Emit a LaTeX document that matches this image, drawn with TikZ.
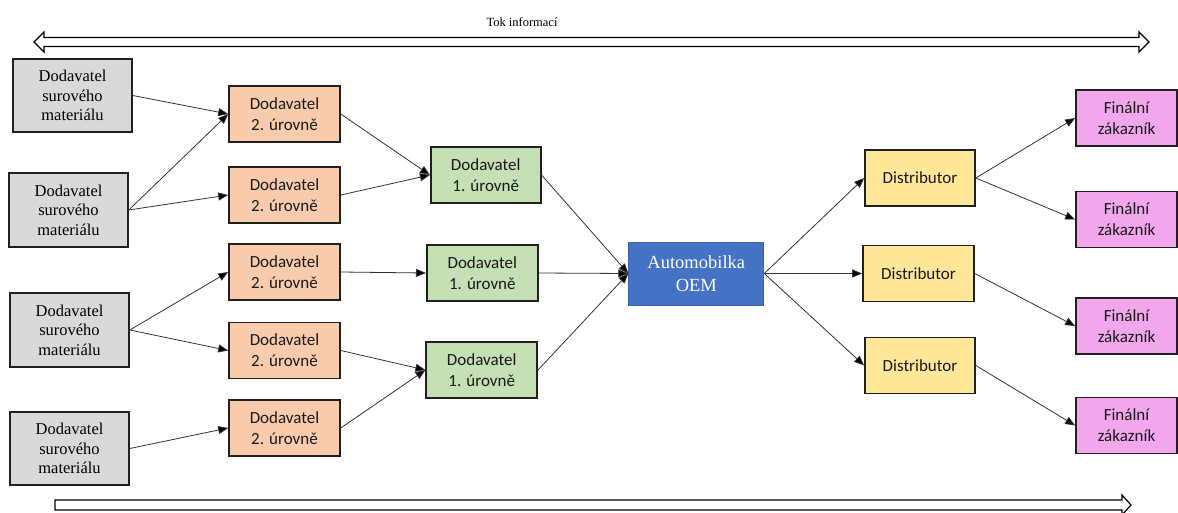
\documentclass[tikz,border=0pt]{standalone}
\usepackage{fontspec}
\setmainfont{Liberation Serif}
\newfontfamily\calibrifont{Carlito}
\usetikzlibrary{arrows.meta}

\definecolor{rawfill}{HTML}{D9D9D9}
\definecolor{tiertwo}{HTML}{F8CBAD}
\definecolor{tierone}{HTML}{C5E0B4}
\definecolor{oemfill}{HTML}{4472C4}
\definecolor{oemedge}{HTML}{3A64B0}
\definecolor{distfill}{HTML}{FFE699}
\definecolor{custfill}{HTML}{F2A6EC}
\definecolor{edgecol}{HTML}{202020}
\definecolor{linkcol}{HTML}{333333}

\tikzset{
  box/.style={draw=edgecol, line width=1.6pt, inner sep=0pt, align=center},
  rawbox/.style={box, fill=rawfill, minimum width=119pt, minimum height=73pt,
                 font=\fontsize{16.5}{19.5}\selectfont},
  cbox/.style={box, minimum width=111pt, minimum height=56pt,
               font=\calibrifont\fontsize{17}{21}\selectfont, text=black!90},
  twobox/.style={cbox, fill=tiertwo},
  onebox/.style={cbox, fill=tierone},
  distbox/.style={cbox, fill=distfill},
  custbox/.style={cbox, fill=custfill, minimum width=101pt},
  oembox/.style={draw=oemedge, line width=1pt, fill=oemfill, inner sep=0pt, align=center,
                 minimum width=135pt, minimum height=63pt, text=white,
                 font=\fontsize{18.5}{23}\selectfont},
  link/.style={draw=linkcol, line width=0.8pt,
               -{Triangle[length=10pt,width=8pt,fill=black]}},
  flowarrow/.style={draw=black, line width=1.2pt, fill=white, line join=miter},
}

\begin{document}
\begin{tikzpicture}[x=1pt,y=-1pt]
\useasboundingbox (0,0) rectangle (1178,512);

% information flow (both directions)
\node[font=\fontsize{12.5}{14}\selectfont] (toklabel) at (522,22) {Tok informací};
\draw[flowarrow] (34,42) -- (44,32) -- (44,37.5) -- (1139,37.5) -- (1139,32) -- (1149,42)
  -- (1139,52) -- (1139,46.5) -- (44,46.5) -- (44,52) -- cycle;

% material flow (one direction)
\draw[flowarrow] (55,500) -- (1122,500) -- (1122,495) -- (1131,505) -- (1122,515)
  -- (1122,510) -- (55,510) -- cycle;

% raw material suppliers
\node[rawbox] (r1) at (72.5,95.5) {Dodavatel\\surového\\materiálu};
\node[rawbox, minimum height=74pt] (r2) at (68.5,210) {Dodavatel\\surového\\materiálu};
\node[rawbox, minimum height=74pt] (r3) at (69.5,330) {Dodavatel\\surového\\materiálu};
\node[rawbox] (r4) at (69.5,448.5) {Dodavatel\\surového\\materiálu};

% tier 2 suppliers
\node[twobox] (t1) at (284.5,114) {Dodavatel\\2. úrovně};
\node[twobox] (t2) at (284.5,195) {Dodavatel\\2. úrovně};
\node[twobox] (t3) at (284.5,272) {Dodavatel\\2. úrovně};
\node[twobox] (t4) at (284.5,350.5) {Dodavatel\\2. úrovně};
\node[twobox] (t5) at (284.5,428) {Dodavatel\\2. úrovně};

% tier 1 suppliers
\node[onebox, minimum width=110pt] (s1) at (485.7,175) {Dodavatel\\1. úrovně};
\node[onebox] (s2) at (482.3,273) {Dodavatel\\1. úrovně};
\node[onebox] (s3) at (481.7,370) {Dodavatel\\1. úrovně};

% manufacturer
\node[oembox] (oem) at (696.3,273.5) {Automobilka\\OEM};

% distributors
\node[distbox, minimum width=110pt] (d1) at (920,178) {Distributor};
\node[distbox] (d2) at (918.5,273.5) {Distributor};
\node[distbox, minimum width=110pt] (d3) at (920,365.5) {Distributor};

% final customers
\node[custbox] (c1) at (1126.5,118) {Finální\\zákazník};
\node[custbox] (c2) at (1126.5,219.5) {Finální\\zákazník};
\node[custbox] (c3) at (1126.5,326) {Finální\\zákazník};
\node[custbox] (c4) at (1126.5,425.5) {Finální\\zákazník};

% material links
\draw[link] (r1.east) -- (t1.west);
\draw[link] (r2.east) -- (t1.west);
\draw[link] (r2.east) -- (t2.west);
\draw[link] (r3.east) -- (t3.west);
\draw[link] (r3.east) -- (t4.west);
\draw[link] (r4.east) -- (t5.west);

\draw[link] (t1.east) -- (s1.west);
\draw[link] (t2.east) -- (s1.west);
\draw[link] (t3.east) -- (s2.west);
\draw[link] (t4.east) -- (s3.west);
\draw[link] (t5.east) -- (s3.west);

\draw[link] (s1.east) -- (oem.west);
\draw[link] (s2.east) -- (oem.west);
\draw[link] (s3.east) -- (oem.west);

\draw[link] (oem.east) -- (d1.west);
\draw[link] (oem.east) -- (d2.west);
\draw[link] (oem.east) -- (d3.west);

\draw[link] (d1.east) -- (c1.west);
\draw[link] (d1.east) -- (c2.west);
\draw[link] (d2.east) -- (c3.west);
\draw[link] (d3.east) -- (c4.west);
\end{tikzpicture}
\end{document}
